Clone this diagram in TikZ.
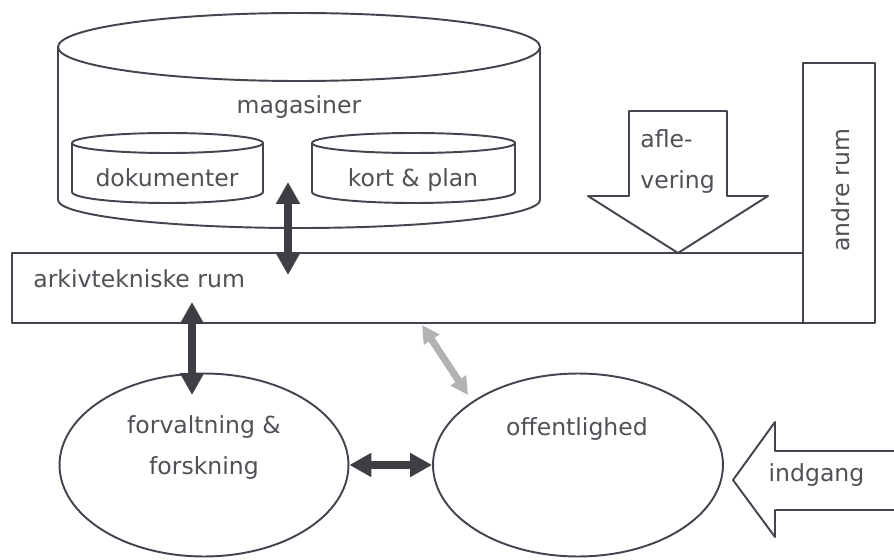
\documentclass[tikz,border=0pt]{standalone}
\usepackage{fontspec}
\setmainfont{DejaVu Sans}
\usetikzlibrary{shapes.geometric,arrows.meta}
\definecolor{linegray}{RGB}{66,68,78}
\definecolor{textgray}{RGB}{80,80,86}
\definecolor{arrowgray}{RGB}{62,62,68}
\definecolor{softgray}{RGB}{178,178,178}

\begin{document}
\begin{tikzpicture}[x=0.02cm,y=0.02cm]
        \tikzset{every node/.style={font=\fontsize{13.4}{23.5}\selectfont,text=textgray,inner sep=0pt},
          outline/.style={draw=linegray,line width=1.1pt,line join=round},
          room/.style={ellipse,outline,minimum width=5.78cm,minimum height=3.66cm},
          link/.style={draw=arrowgray,line width=5pt,
            {Triangle[length=12.5pt,width=13pt]}-{Triangle[length=12.5pt,width=13pt]}},
          softlink/.style={draw=softgray,line width=4pt,
            {Triangle[length=10pt,width=10pt]}-{Triangle[length=10pt,width=10pt]}}}
        \useasboundingbox (0,0) rectangle (894,559);
        % magasiner
        \draw[outline] (58,512) -- (58,359) arc[start angle=180,end angle=360,x radius=241,y radius=28] -- (540,512);
        \draw[outline] (299,512) ellipse[x radius=241,y radius=34];
        \node (magasin) at (299,452) {magasiner};
        \draw[outline] (72,416) -- (72,367) arc[start angle=180,end angle=360,x radius=95.5,y radius=11] -- (263,416);
        \draw[outline] (167.5,416) ellipse[x radius=95.5,y radius=10];
        \node (dok) at (167,381.5) {dokumenter};
        \draw[outline] (312,416) -- (312,367) arc[start angle=180,end angle=360,x radius=101.5,y radius=11] -- (515,416);
        \draw[outline] (413.5,416) ellipse[x radius=101.5,y radius=10];
        \node (kort) at (413,378.5) {kort \& plan};
        % rum
        \draw[outline] (12,236) rectangle (803,306);
        \node[anchor=base west] (arkiv) at (33,272) {arkivtekniske rum};
        \draw[outline] (803,236) rectangle (875,496);
        \node[rotate=90] (andre) at (840.5,369) {andre rum};
        % aflevering og indgang
        \draw[outline] (629,448) -- (629,363) -- (588,363) -- (678,306) -- (768,363) -- (727,363) -- (727,448) -- cycle;
        \node[anchor=west,align=left] (afle) at (640,397.5) {afle-\\vering};
        \draw[outline] (894,108) -- (775,108) -- (775,137) -- (733,79) -- (775,22) -- (775,49) -- (894,49);
        \node (indgang) at (816.5,83.5) {indgang};
        % brugere
        \node[room] (forv) at (204,94) {};
        \node[align=center] (forvtext) at (204,111.5) {forvaltning \&\\forskning};
        \node[room,minimum width=5.8cm] (offent) at (578,94) {};
        \node (offtext) at (577,130) {offentlighed};
        % forbindelser
        \coordinate (magport) at (288,377);
        \coordinate (arkivtop) at (288,284);
        \coordinate (arkivbund) at (192,257);
        \coordinate (forvtop) at (192,164);
        \coordinate (arkivoff) at (422,234);
        \coordinate (offtop) at (468,164);
        \draw[link] (magport) -- (arkivtop);
        \draw[link] (arkivbund) -- (forvtop);
        \draw[link] (forv.east) -- (offent.west);
        \draw[softlink] (arkivoff) -- (offtop);
\end{tikzpicture}
\end{document}
